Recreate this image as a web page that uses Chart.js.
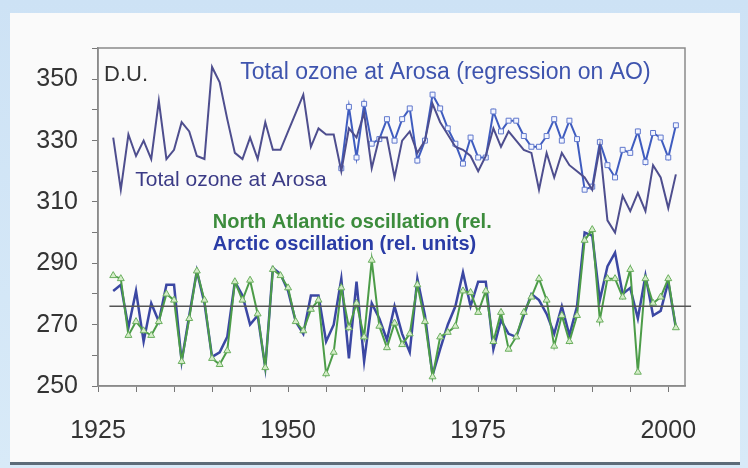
<!DOCTYPE html>
<html>
<head>
<meta charset="utf-8">
<script src="https://cdn.jsdelivr.net/npm/chart.js@4.4.1/dist/chart.umd.min.js"></script>
<style>
  html, body { margin: 0; padding: 0; }
  body { width: 748px; height: 468px; background: linear-gradient(#cde2f5, #d8eaf8); position: relative; overflow: hidden; }
  #panel { position: absolute; left: 10px; top: 13px; width: 730px; height: 449px; background: #fafafa; border-bottom: 3px solid #5d6b78; }
  #wrap { position: absolute; left: 0; top: 0; width: 748px; height: 468px; }
</style>
</head>
<body>
<div id="panel"></div>
<div id="wrap"><canvas id="chart" width="748" height="468"></canvas></div>
<script>
// years 1927-2001
const years = [1927,1928,1929,1930,1931,1932,1933,1934,1935,1936,1937,1938,1939,1940,1941,1942,1943,1944,1945,1946,
  1947,1948,1949,1950,1951,1952,1953,1954,1955,1956,1957,1958,1959,1960,1961,1962,1963,1964,1965,1966,
  1967,1968,1969,1970,1971,1972,1973,1974,1975,1976,1977,1978,1979,1980,1981,1982,1983,1984,1985,1986,
  1987,1988,1989,1990,1991,1992,1993,1994,1995,1996,1997,1998,1999,2000,2001]

// total ozone at Arosa (D.U.)
const arosa = [331,314,332,325,330,324,343,324,327,336,333,325,324,354,349,337,326,324,331,324,
  336,327,327,333,339,345,328,334,332,332,320,334,331,339,321,331,331,318,330,333,
  326,330,342,336,332,328,327,325,320,325,334,328,333,330,327,326,314,326,318,326,
  322,320,318,314,328,304,300,312,307,313,307,322,318,308,319]

// regression on AO, 1957-2001
const regYears = years.slice(30)
const regression = [321,341,324.5,342,329,330.5,337,330,337,340.5,323.5,330,345,340.5,334,329,322.5,331,324.5,324.5,
  339.5,333,336.5,336.5,331.5,328,328,331.5,337,330,336.5,330.5,314,315,329.5,322,318,327,326,333,
  323,332.5,331,324.5,335]

// North Atlantic oscillation (rel. units, shifted)
const nao = [286,285,266.5,271,268,266.5,271,280,278,258,272,287.5,278,259,257,261.5,284,278,284.5,273.5,
  256,288,286,282,271,268,275,278,254,261,282,269,277,266,291,269.5,262.5,270.5,263.5,267,
  283,271,253,266,267.5,269.5,281,280.5,274,281,264.5,274,262,266,274,279,285,278,263,273,
  264.5,273,297.5,301,271.5,285,285,279,288,254.5,285,277,279,285,269]

// Arctic oscillation (rel. units, shifted)
const ao = [281,283,269,281,264.5,277,271,283,283,258,273,287.5,277,259.5,261,266,284,279.5,270,273,
  256,288.5,286.5,281,271,267,279.5,279.5,264.5,270,285,259,284,258,277,272,265,276,267,261,
  285,273,253.5,262,270,276,287,276,284,284,262,271.5,267,266,273,280,278,273.5,267,276,
  266.5,276,300,299,278,289,293.5,280,282,272,286,273,274.5,284,269]

const refLevel = 276
const refSpan = [1926.5, 2003]

const xTicks = [1925, 1950, 1975, 2000]
const yTicks = [250, 270, 290, 310, 330, 350]

const labels = [
  { text: 'D.U.', x: 1925.8, y: 351.3, color: '#333333', font: '22px "Liberation Sans", Arial, sans-serif' },
  { text: 'Total ozone at Arosa (regression on AO)', x: 1943.7, y: 352, color: '#3e54ae', font: '23px "Liberation Sans", Arial, sans-serif' },
  { text: 'Total ozone at Arosa', x: 1929.9, y: 317.2, color: '#3b3b86', font: '21px "Liberation Sans", Arial, sans-serif' },
  { text: 'North Atlantic oscillation (rel.', x: 1940.1, y: 303.4, color: '#3c8c3c', font: 'bold 20px "Liberation Sans", Arial, sans-serif' },
  { text: 'Arctic oscillation (rel. units)', x: 1940.1, y: 296.3, color: '#2a3ca6', font: 'bold 20px "Liberation Sans", Arial, sans-serif' },
]

const pts = (xs, ys) => xs.map((x, i) => ({ x: x, y: ys[i] }))

const textPlugin = {
  id: 'texts',
  beforeDatasetsDraw(chart) {
    const { ctx, chartArea } = chart
    ctx.save()
    ctx.strokeStyle = '#8a8a8a'
    ctx.lineWidth = 1.5
    ctx.strokeRect(chartArea.left, chartArea.top, chartArea.right - chartArea.left, chartArea.bottom - chartArea.top)
    ctx.restore()
  },
  afterDatasetsDraw(chart) {
    const { ctx, scales } = chart
    ctx.save()
    ctx.textBaseline = 'middle'
    ctx.textAlign = 'left'
    labels.forEach(l => {
      ctx.font = l.font
      ctx.fillStyle = l.color
      ctx.fillText(l.text, scales.x.getPixelForValue(l.x), scales.y.getPixelForValue(l.y))
    })
    ctx.restore()
  }
}

const tickFont = { family: '"Liberation Sans", Arial, sans-serif', size: 25 }

new Chart(document.getElementById('chart'), {
  type: 'line',
  data: {
    datasets: [
      {
        label: 'ref',
        data: pts(refSpan, [refLevel, refLevel]),
        borderColor: '#555555', borderWidth: 1.5, pointRadius: 0, clip: false
      },
      {
        label: 'Total ozone at Arosa',
        data: pts(years, arosa),
        borderColor: '#4e4e8e', borderWidth: 2, pointRadius: 0
      },
      {
        label: 'Total ozone at Arosa (regression on AO)',
        data: pts(regYears, regression),
        borderColor: '#3f5cbf', borderWidth: 2,
        pointStyle: 'rect', pointRadius: 3.5,
        pointBackgroundColor: '#f2f5ff', pointBorderColor: '#6078cc', pointBorderWidth: 1
      },
      {
        label: 'North Atlantic oscillation',
        data: pts(years, nao),
        borderColor: '#4c9c48', borderWidth: 2,
        pointStyle: 'triangle', pointRadius: 4,
        pointBackgroundColor: '#d4ecc8', pointBorderColor: '#6aae5e', pointBorderWidth: 1
      },
      {
        label: 'Arctic oscillation',
        data: pts(years, ao),
        borderColor: 'rgba(32,45,150,0.88)', borderWidth: 2.5, pointRadius: 0
      }
    ]
  },
  plugins: [textPlugin],
  options: {
    responsive: false,
    animation: false,
    events: [],
    layout: { padding: { left: 0, top: 48, right: 63, bottom: 0 } },
    plugins: { legend: { display: false }, tooltip: { enabled: false } },
    elements: { line: { tension: 0 } },
    scales: {
      x: {
        type: 'linear', min: 1925, max: 2002.2,
        afterFit: s => { s.height = 82 },
        afterBuildTicks: s => { s.ticks = s.ticks.filter(t => t.value % 5 === 0) },
        ticks: {
          stepSize: 5, includeBounds: false, autoSkip: false, maxRotation: 0, padding: 24, color: '#333333', font: tickFont,
          callback: v => xTicks.includes(v) ? String(v) : ''
        },
        grid: { drawOnChartArea: false, drawTicks: true, tickLength: 6, color: '#777777' },
        border: { display: true, color: '#8a8a8a', width: 1.5 }
      },
      y: {
        min: 250, max: 360.2,
        afterFit: s => { s.width = 98 },
        afterBuildTicks: s => { s.ticks = s.ticks.filter(t => t.value % 10 === 0) },
        ticks: {
          stepSize: 10, includeBounds: false, autoSkip: false, padding: 14, color: '#333333', font: tickFont,
          callback: v => yTicks.includes(v) ? String(v) : ''
        },
        grid: { drawOnChartArea: false, drawTicks: true, tickLength: 6, color: '#777777' },
        border: { display: true, color: '#8a8a8a', width: 1.5 }
      }
    }
  }
})
</script>
</body>
</html>
